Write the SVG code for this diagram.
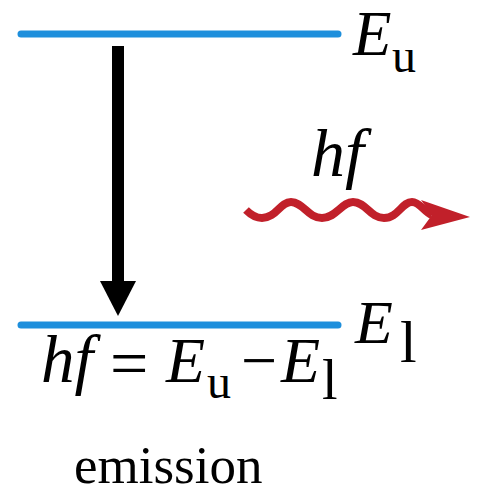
<svg xmlns="http://www.w3.org/2000/svg" width="477" height="499" viewBox="0 0 477 499">
<style>
.lvl{stroke:#1e8fdc;stroke-width:7;stroke-linecap:round}
.t{font-family:"Liberation Serif","Times New Roman",serif;fill:#000}
.i{font-style:italic}
</style>
<rect width="477" height="499" fill="#fff"/>
<g id="level-upper"><line class="lvl" x1="21" y1="34" x2="338" y2="34"/>
<text class="t i" x="353" y="55" font-size="63">E</text><text class="t" x="392" y="72" font-size="48">u</text></g>
<g id="level-lower"><line class="lvl" x1="21" y1="325" x2="338" y2="325"/>
<text class="t i" x="355" y="343" font-size="62">E</text><text class="t" x="400" y="362" font-size="60">l</text></g>
<g id="photon">
<text class="t i" x="311" y="176" font-size="68">hf</text>
<path d="M246,210 Q254,218 262,218 C276,218 280,202 291,202 C303,202 308,218 322,218 C336,218 342,202 353,202 C366,202 370,218 384,218 C398,218 402,202 412,202 C420,202 424,212 432,215" fill="none" stroke="#c1202a" stroke-width="8"/>
<polygon points="421,200 470,217 421,230 432,215" fill="#c1202a"/>
</g>
<g id="connectors">
<rect x="112" y="46" width="12" height="240" fill="#000"/>
<polygon points="100,281 136,281 118,316" fill="#000"/>
</g>
<g id="equation">
<text class="t i" x="41" y="382" font-size="67">hf</text>
<text class="t" x="110" y="386" font-size="68">=</text>
<text class="t i" x="166" y="382" font-size="64">E</text>
<text class="t" x="207" y="398" font-size="48">u</text>
<text class="t" x="241" y="382" font-size="64">−</text>
<text class="t i" x="281" y="382" font-size="64">E</text>
<text class="t" x="322" y="399" font-size="56">l</text>
</g>
<g id="caption"><text class="t" x="74" y="483" font-size="53">emission</text></g>
</svg>
